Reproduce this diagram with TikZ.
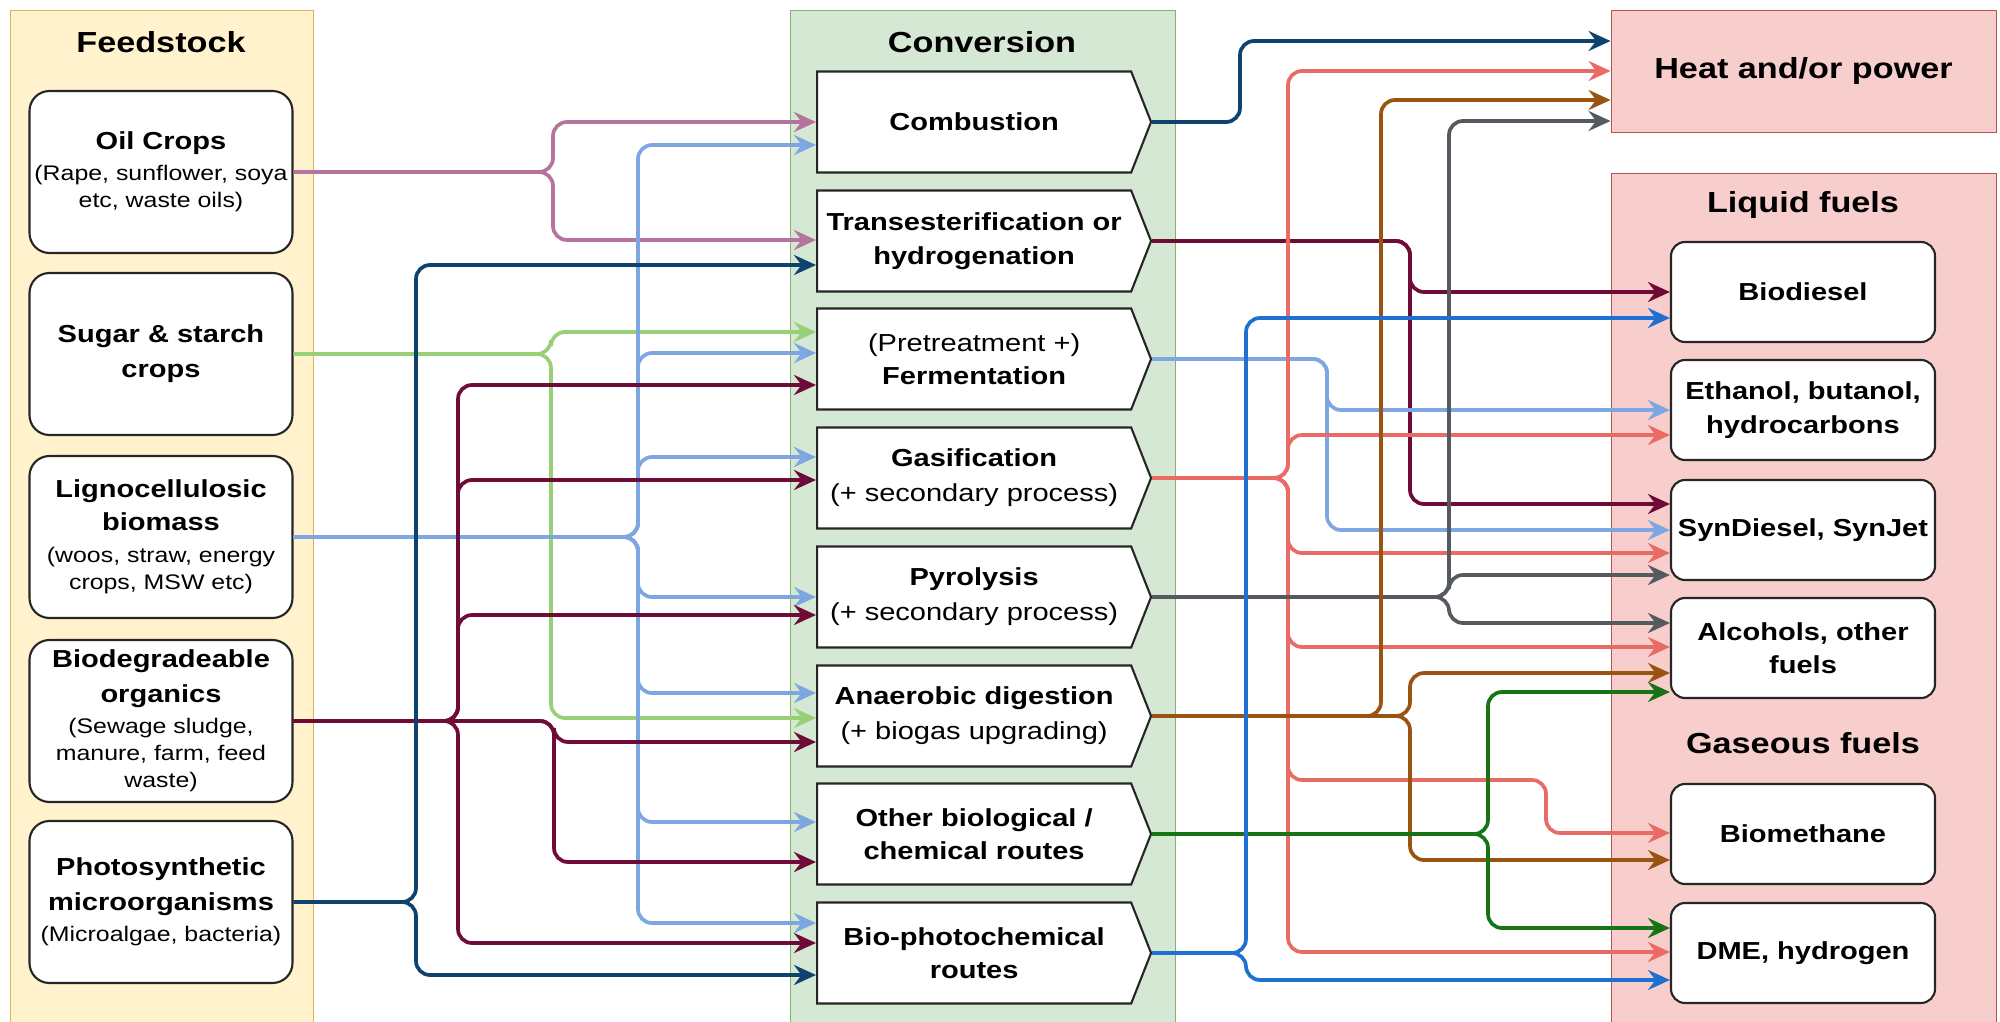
\documentclass[tikz,border=0pt]{standalone}
\usepackage{fontspec}
\setmainfont{Liberation Sans}[FakeStretch=1.18]
\usetikzlibrary{arrows.meta,shapes.symbols}

\definecolor{feedbg}{HTML}{FFF2CC}
\definecolor{feedln}{HTML}{D6B656}
\definecolor{convbg}{HTML}{D5E8D4}
\definecolor{convln}{HTML}{82B366}
\definecolor{prodbg}{HTML}{F8CECC}
\definecolor{prodln}{HTML}{B85450}
\definecolor{oilc}{HTML}{B5739D}
\definecolor{sugc}{HTML}{97D077}
\definecolor{lbc}{HTML}{7EA6E0}
\definecolor{marc}{HTML}{6E0B37}
\definecolor{navc}{HTML}{10426E}
\definecolor{salc}{HTML}{EA6B66}
\definecolor{brnc}{HTML}{9A5412}
\definecolor{gryc}{HTML}{555A60}
\definecolor{grnc}{HTML}{167316}
\definecolor{blc}{HTML}{1F70D0}

\newcommand\headfont{\fontsize{16.5}{20}\selectfont\bfseries}
\newcommand\smallfont{\fontsize{12}{15}\selectfont\mdseries}
\newcommand\midfont{\fontsize{14}{19}\selectfont\mdseries}

\begin{document}
\begin{tikzpicture}[
    x=0.2mm, y=-0.2mm,
    every node/.style={align=center, inner sep=1pt},
    head/.style={font=\headfont},
    feed/.style={rectangle, draw=black!85, fill=white, line width=1.2pt, rounded corners=4mm,
      minimum width=52.6mm, minimum height=32.4mm, font=\fontsize{14}{20}\selectfont\bfseries},
    conv/.style={signal, signal to=east, signal pointer angle=137, draw=black!85, fill=white,
      line width=1.2pt, minimum width=66.8mm, minimum height=20.2mm, anchor=west,
      font=\fontsize{14}{19}\selectfont\bfseries},
    fuel/.style={rectangle, draw=black!85, fill=white, line width=1.2pt, rounded corners=2.8mm,
      minimum width=52.8mm, minimum height=20mm, font=\fontsize{14}{19}\selectfont\bfseries},
    flow/.style={line width=2.1pt, rounded corners=2.8mm,
      -{Stealth[length=4.4mm, width=4mm, inset=1.5mm]}}
  ]
  \useasboundingbox (0,0) rectangle (2000,1022);

  % panels
  \draw[fill=feedbg, draw=feedln, line width=0.5pt] (10,10) rectangle (313,1040);
  \draw[fill=convbg, draw=convln, line width=0.5pt] (790,10) rectangle (1175,1040);
  \draw[fill=prodbg, draw=prodln, line width=0.5pt] (1611,173) rectangle (1996,1040);

  \node (feedttl) [head] at (161,42) {Feedstock};
  \node (convttl) [head] at (982,42) {Conversion};
  \node (liqttl) [head] at (1803,205) {Liquid fuels};
  \node (gasttl) [head] at (1803,743) {Gaseous fuels};

  % feedstock
  \node (oil) [feed] at (161,172) {Oil Crops\\[-2.4pt]\smallfont (Rape, sunflower, soya\\[-4.6pt]\smallfont etc, waste oils)};
  \node (sugar) [feed] at (161,354) {Sugar \& starch\\crops};
  \node (ligno) [feed] at (161,537) {Lignocellulosic\\[-1.2pt]biomass\\[-2pt]\smallfont (woos, straw, energy\\[-4.6pt]\smallfont crops, MSW etc)};
  \node (biodeg) [feed] at (161,721) {Biodegradeable\\organics\\[-2.4pt]\smallfont (Sewage sludge,\\[-4.6pt]\smallfont manure, farm, feed\\[-4.6pt]\smallfont waste)};
  \node (micro) [feed] at (161,902) {Photosynthetic\\microorganisms\\[-2.4pt]\smallfont (Microalgae, bacteria)};

  % conversion
  \node (comb) [conv] at (816,122) {Combustion};
  \node (trans) [conv] at (816,241) {Transesterification or\\hydrogenation};
  \node (ferm) [conv] at (816,359) {\midfont (Pretreatment +)\\Fermentation};
  \node (gasi) [conv] at (816,478) {Gasification\\[1pt]\midfont (+ secondary process)};
  \node (pyro) [conv] at (816,597) {Pyrolysis\\[1pt]\midfont (+ secondary process)};
  \node (anae) [conv] at (816,716) {Anaerobic digestion\\[1pt]\midfont (+ biogas upgrading)};
  \node (other) [conv] at (816,834) {Other biological /\\chemical routes};
  \node (bioph) [conv] at (816,953) {Bio-photochemical\\routes};

  % products
  \node (heat) [draw=prodln, fill=prodbg, line width=0.5pt, minimum width=77mm, minimum height=24.4mm,
    font=\headfont] at (1803.5,71) {Heat and/or power};
  \node (biod) [fuel] at (1803,292) {Biodiesel};
  \node (etha) [fuel] at (1803,410) {Ethanol, butanol,\\hydrocarbons};
  \node (synd) [fuel] at (1803,530) {SynDiesel, SynJet};
  \node (alco) [fuel] at (1803,648) {Alcohols, other\\fuels};
  \node (biom) [fuel] at (1803,834) {Biomethane};
  \node (dme) [fuel] at (1803,953) {DME, hydrogen};

  % feedstock -> conversion
  \draw[flow, oilc] (oil.east) -- (553,172) |- (comb.west |- 0,122);
  \draw[flow, oilc] (oil.east) -- (553,172) |- (trans.west |- 0,240);
  \draw[flow, sugc] (sugar.east) -- (551,354) |- (ferm.west |- 0,332);
  \draw[flow, sugc] (sugar.east) -- (551,354) |- (anae.west |- 0,718);
  \foreach \t/\y in {comb/145, ferm/353, gasi/457, pyro/597, anae/693, other/822, bioph/923}
    \draw[flow, lbc] (ligno.east) -- (638,537) |- (\t.west |- 0,\y);
  \foreach \t/\y in {ferm/385, gasi/480, pyro/615, bioph/943}
    \draw[flow, marc] (biodeg.east) -- (458,721) |- (\t.west |- 0,\y);
  \foreach \t/\y in {anae/742, other/862}
    \draw[flow, marc] (biodeg.east) -- (554,721) |- (\t.west |- 0,\y);
  \draw[flow, navc] (micro.east) -- (416,902) |- (trans.west |- 0,265);
  \draw[flow, navc] (micro.east) -- (416,902) |- (bioph.west |- 0,975);

  % conversion -> products
  \draw[flow, navc] (comb.east) -- (1240,122) |- (heat.west |- 0,41);
  \draw[flow, marc] (trans.east) -- (1410,241) |- (biod.west |- 0,292);
  \draw[flow, marc] (trans.east) -- (1410,241) |- (synd.west |- 0,504);
  \draw[flow, lbc] (ferm.east) -- (1327,359) |- (etha.west |- 0,410);
  \draw[flow, lbc] (ferm.east) -- (1327,359) |- (synd.west |- 0,530);
  \foreach \t/\y in {heat/71, etha/435, synd/553, alco/647, dme/952}
    \draw[flow, salc] (gasi.east) -- (1288,478) |- (\t.west |- 0,\y);
  \draw[flow, salc] (gasi.east) -- (1288,478) |- (1546,780) |- (biom.west |- 0,833);
  \foreach \t/\y in {heat/121, synd/575, alco/623}
    \draw[flow, gryc] (pyro.east) -- (1449,597) |- (\t.west |- 0,\y);
  \draw[flow, brnc] (anae.east) -- (1381,716) |- (heat.west |- 0,100);
  \foreach \t/\y in {alco/673, biom/860}
    \draw[flow, brnc] (anae.east) -- (1410,716) |- (\t.west |- 0,\y);
  \foreach \t/\y in {alco/692, dme/928}
    \draw[flow, grnc] (other.east) -- (1488,834) |- (\t.west |- 0,\y);
  \foreach \t/\y in {biod/318, dme/980}
    \draw[flow, blc] (bioph.east) -- (1246,953) |- (\t.west |- 0,\y);
\end{tikzpicture}
\end{document}
